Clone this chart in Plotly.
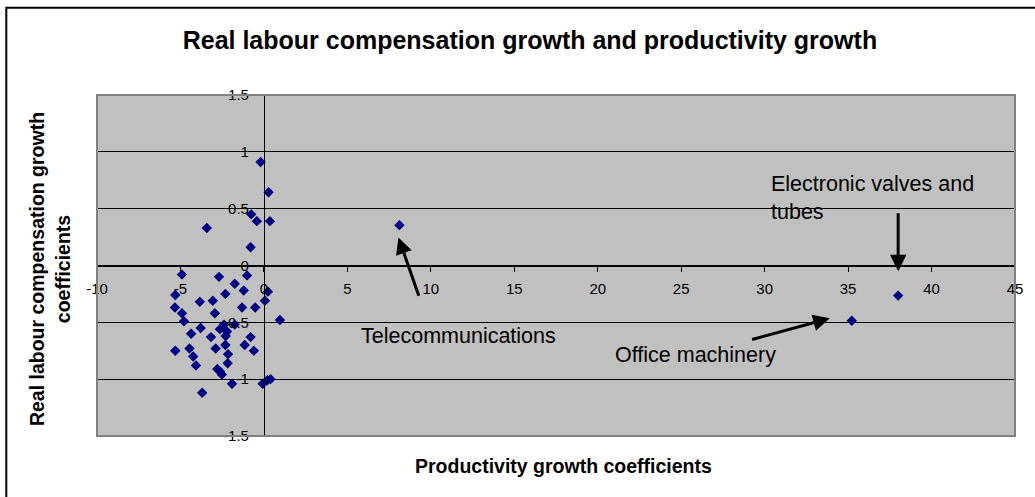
import plotly.graph_objects as go

# productivity growth vs real labour compensation growth
productivity = [
    -0.2, 0.28, -0.76, -0.42, 0.36, -3.42, -0.8,
    -4.91, -2.69, -1.01, -1.75, -1.21, 0.24, -5.31, -2.31, 0.06, -3.84, -3.06,
    -5.33, -2.94, -1.31, -0.52, -4.91, -4.79, 0.96, -3.79, -2.64, -2.39, -2.21,
    -1.75, -4.36, -2.29, -3.17, -0.8, -5.31, -4.46, -2.89, -2.31, -1.15, -0.6,
    -4.24, -2.15, -4.07, -2.17, -2.79, -2.64, -2.52, -1.91, -0.07, 0.21, 0.4,
    -3.7, 8.12, 35.22, 38.0,
]
compensation = [
    0.91, 0.645, 0.45, 0.39, 0.39, 0.33, 0.16,
    -0.08, -0.1, -0.087, -0.16, -0.22, -0.23, -0.26, -0.25, -0.31, -0.32, -0.31,
    -0.37, -0.42, -0.37, -0.37, -0.42, -0.49, -0.48, -0.55, -0.56, -0.52, -0.58,
    -0.52, -0.6, -0.62, -0.63, -0.63, -0.75, -0.73, -0.73, -0.7, -0.7, -0.75,
    -0.8, -0.78, -0.88, -0.86, -0.91, -0.93, -0.96, -1.04, -1.04, -1.01, -1.0,
    -1.12, 0.355, -0.486, -0.265,
]

x_ticks = [-10, -5, 0, 5, 10, 15, 20, 25, 30, 35, 40, 45]
x_labels = ["-10", "-5", "0", "5", "10", "15", "20", "25", "30", "35", "40", "45"]
y_ticks = [-1.5, -1, -0.5, 0, 0.5, 1, 1.5]
y_labels = ["-1.5", "-1", "-0.5", "0", "0.5", "1", "1.5"]

# callouts: text, text position, arrow tail, arrow tip
callouts = [
    ("Telecommunications", (5.67, -0.62), (9.31, -0.28), (8.06, 0.247)),
    ("Office machinery", (20.9, -0.785), (29.16, -0.654), (33.9, -0.465)),
    ("Electronic valves and<br>tubes", (30.27, 0.593), (38.0, 0.473), (38.0, -0.05)),
]

FONT = "Liberation Sans, Arial, sans-serif"

fig = go.Figure(go.Scatter(
    x=productivity, y=compensation, mode="markers",
    marker=dict(symbol="diamond", size=8, color="#000080"),
    showlegend=False, hoverinfo="x+y",
))

annotations = []
for text, (tx, ty), (ax, ay), (hx, hy) in callouts:
    annotations.append(dict(
        x=tx, y=ty, xref="x", yref="y", text=text, showarrow=False,
        xanchor="left", yanchor="middle", align="left",
        font=dict(family=FONT, size=21.5, color="black"),
    ))
    annotations.append(dict(
        x=hx, y=hy, ax=ax, ay=ay, xref="x", yref="y", axref="x", ayref="y",
        text="", showarrow=True, arrowhead=2, arrowsize=1.1, arrowwidth=3,
        arrowcolor="black", standoff=0,
    ))

# axis titles
annotations.append(dict(
    x=0.508, y=-0.088, xref="paper", yref="paper", text="<b>Productivity growth coefficients</b>",
    showarrow=False, xanchor="center", yanchor="middle",
    font=dict(family=FONT, size=19.5, color="black"),
))
annotations.append(dict(
    x=-0.051, y=0.49, xref="paper", yref="paper",
    text="<b>Real labour compensation growth<br>coefficients</b>",
    showarrow=False, textangle=-90, xanchor="center", yanchor="middle",
    font=dict(family=FONT, size=19.5, color="black"),
))

fig.update_layout(
    width=1035, height=497,
    margin=dict(l=97, r=17, t=95, b=61),
    paper_bgcolor="white", plot_bgcolor="#C0C0C0",
    title=dict(
        text="<b>Real labour compensation growth and productivity growth</b>",
        x=0.512, xref="container", xanchor="center",
        y=0.92, yref="container", yanchor="middle",
        font=dict(family=FONT, size=25, color="black"),
    ),
    font=dict(family=FONT, size=15, color="black"),
    annotations=annotations,
    shapes=[
        # chart frame
        dict(type="rect", xref="paper", yref="paper",
             x0=-0.0988, x1=1.03, y0=-0.2, y1=1.256,
             line=dict(color="black", width=2), layer="below"),
        # plot area border
        dict(type="rect", xref="paper", yref="paper", x0=0, x1=1, y0=0, y1=1,
             line=dict(color="#808080", width=2)),
    ],
)

fig.update_xaxes(
    range=[-10, 45], tickvals=x_ticks, ticktext=x_labels, showgrid=False, zeroline=False,
    anchor="free", position=0.5,
    showline=True, linecolor="black", linewidth=1,
    ticks="outside", ticklen=5, tickcolor="black", ticklabelstandoff=4,
    tickfont=dict(family=FONT, size=15),
)
fig.update_yaxes(
    range=[-1.5, 1.5], tickvals=y_ticks, ticktext=y_labels,
    showgrid=True, gridcolor="black", gridwidth=1,
    zeroline=False, anchor="free", position=10 / 55,
    showline=True, linecolor="black", linewidth=1,
    ticks="outside", ticklen=6, tickcolor="black", ticklabelstandoff=6,
    tickfont=dict(family=FONT, size=15),
)

# drop the default page margin so the figure sits at the window's corner
fig.write_html(
    "out.html",
    config={"displayModeBar": False},
    post_script="document.body.style.margin='0';",
)
